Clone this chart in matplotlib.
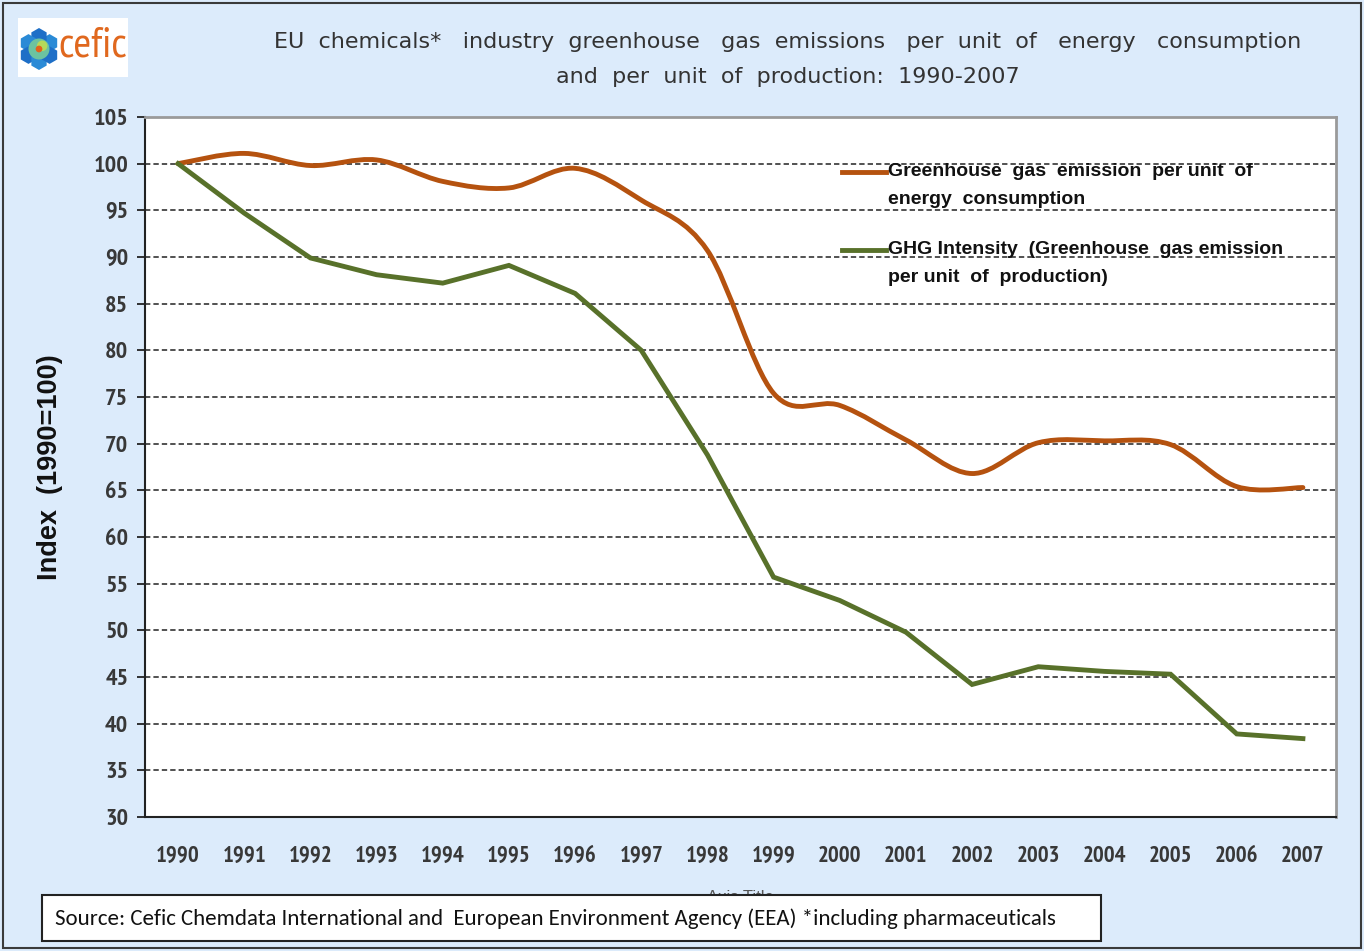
import numpy as np
import matplotlib
matplotlib.use("Agg")
import matplotlib.pyplot as plt
from matplotlib.path import Path
from matplotlib.patches import PathPatch, Rectangle, Circle, RegularPolygon
from matplotlib.lines import Line2D

years = list(range(1990, 2008))
ghg_energy = [100, 101.1, 99.8, 100.4, 98.1, 97.4, 99.5, 96.1, 90.7, 75.4,
              74.1, 70.4, 66.8, 70.1, 70.3, 69.9, 65.4, 65.3]
ghg_intensity = [100, 94.7, 89.9, 88.1, 87.2, 89.1, 86.1, 80.0, 68.8, 55.7,
                 53.2, 49.8, 44.2, 46.1, 45.6, 45.3, 38.9, 38.4]
yticks = list(range(30, 106, 5))
label_energy = "Greenhouse  gas  emission  per unit  of\nenergy  consumption"
label_intensity = "GHG Intensity  (Greenhouse  gas emission\nper unit  of  production)"
title_1 = "EU  chemicals*   industry  greenhouse   gas  emissions   per  unit  of   energy   consumption"
title_2 = "and  per  unit  of  production:  1990-2007"
source = "Source: Cefic Chemdata International and  European Environment Agency (EEA) *including pharmaceuticals"

BG = "#dcebfb"
ORANGE = "#b5520f"
GREEN = "#58712a"
NARROW = ["Liberation Sans Narrow", "Arial Narrow", "PT Sans Narrow", "Roboto Condensed",
          "Archivo Narrow", "DejaVu Sans"]
CALIBRI = ["Carlito", "Calibri", "PT Sans Narrow", "Roboto Condensed", "DejaVu Sans"]
ARIAL = ["Liberation Sans", "Arimo", "DejaVu Sans"]


def smooth_path(x, y):
    # excel style smoothed line: cubic bezier through every point
    pts = np.column_stack([x, y]).astype(float)
    n = len(pts)
    verts = [pts[0]]
    codes = [Path.MOVETO]
    for i in range(n - 1):
        p0 = pts[max(i - 1, 0)]
        p1 = pts[i]
        p2 = pts[i + 1]
        p3 = pts[min(i + 2, n - 1)]
        c1 = p1 + (p2 - p0) / 6
        c2 = p2 - (p3 - p1) / 6
        verts += [c1, c2, p2]
        codes += [Path.CURVE4] * 3
    return Path(verts, codes)


fig = plt.figure(figsize=(13.64, 9.51), dpi=100)
fig.patch.set_facecolor(BG)
W, H = 1364, 951

def fx(px):
    return px / W

def fy(py):
    return 1 - py / H

# outer frame
fig.add_artist(Rectangle((fx(3), fy(948)), fx(1358), 945 / H, transform=fig.transFigure,
                         fill=False, edgecolor="#3a3a3a", lw=1.5))

ax = fig.add_axes([fx(145), fy(817), fx(1336 - 145), (817 - 117) / H])
ax.set_facecolor("white")
ax.set_xlim(1989.5, 2007.5)
ax.set_ylim(30, 105)

for v in yticks[1:-1]:
    ax.axhline(v, color="#222222", lw=1.1, ls=(0, (3.5, 2)), zorder=1)

ax.add_patch(PathPatch(smooth_path(years, ghg_energy), fill=False, edgecolor=ORANGE,
                       lw=3.5, capstyle="round", joinstyle="round", zorder=3))
ax.plot(years, ghg_intensity, color=GREEN, lw=3.5, solid_joinstyle="miter", zorder=3)

ax.set_xticks(years)
ax.set_xticklabels([str(y) for y in years], family=NARROW, fontsize=16.5, color="#383838",
                   fontweight="bold")
ax.set_yticks(yticks)
ax.set_yticklabels([str(v) for v in yticks], family=NARROW, fontsize=17.5, color="#383838",
                   fontweight="bold")
ax.tick_params(axis="x", length=0, pad=21)
ax.tick_params(axis="y", length=6, width=1.3, color="#222222", pad=6)
for s in ["left", "bottom"]:
    ax.spines[s].set_color("#222222")
    ax.spines[s].set_linewidth(1.5)
for s in ["right", "top"]:
    ax.spines[s].set_color("#9a9a9a")
    ax.spines[s].set_linewidth(2)

ax.set_ylabel("Index  (1990=100)", family=ARIAL, fontsize=19.5,
              fontweight="bold", color="#111111", labelpad=22)

# legend drawn inside plot, no frame
for (y0, lab, col) in [(172, label_energy, ORANGE), (250, label_intensity, GREEN)]:
    fig.add_artist(Line2D([fx(842), fx(886)], [fy(y0), fy(y0)], transform=fig.transFigure,
                          color=col, lw=3.5, zorder=5))
    fig.text(fx(888), fy(y0 - 9), lab, family=ARIAL, fontsize=14, fontweight="bold",
             color="#111111", va="top", ha="left", linespacing=1.85, zorder=5)

# title
fig.text(fx(788), fy(42), title_1, ha="center", va="center", fontsize=16, color="#333333",
         family=["DejaVu Sans"])
fig.text(fx(788), fy(77), title_2, ha="center", va="center", fontsize=16, color="#333333",
         family=["DejaVu Sans"])

# cefic logo
fig.add_artist(Rectangle((fx(18), fy(77)), fx(110), 59 / H, transform=fig.transFigure,
                         facecolor="white", edgecolor="none", zorder=1))
lax = fig.add_axes([fx(18), fy(70), fx(42), 42 / H])
lax.set_zorder(3)
lax.set_xlim(-1, 1)
lax.set_ylim(-1, 1)
lax.set_aspect("equal")
lax.axis("off")
for k in range(6):
    a = np.pi / 6 + k * np.pi / 3
    lax.add_patch(RegularPolygon((0.58 * np.cos(a), 0.58 * np.sin(a)), 6, radius=0.42,
                                 facecolor="#1e6fc7" if k % 2 else "#2a8ad6", edgecolor="none"))
lax.add_patch(Circle((0, 0), 0.5, facecolor="#6cc3a0", edgecolor="none"))
lax.add_patch(Circle((0.15, 0.15), 0.25, facecolor="#b5d95a", edgecolor="none"))
lax.add_patch(Circle((0, 0), 0.16, facecolor="#e2621b", edgecolor="none"))
fig.text(fx(58), fy(46), "cefic", family=NARROW, fontsize=31, color="#e0681e",
         va="center", ha="left", zorder=4)

# leftover default axis title, mostly hidden behind the source box
fig.text(fx(740), fy(898), "Axis Title", family=ARIAL, fontsize=12, color="#555555",
         ha="center", va="center", zorder=5)

# source box
fig.add_artist(Rectangle((fx(42), fy(941)), fx(1101 - 42), 46 / H, transform=fig.transFigure,
                         facecolor="white", edgecolor="#222222", lw=1.5, zorder=6))
fig.text(fx(55), fy(919), source, family=CALIBRI, fontsize=16.5, color="#111111",
         va="center", ha="left", zorder=7)

fig.savefig("out.png", dpi=100, facecolor=BG)
